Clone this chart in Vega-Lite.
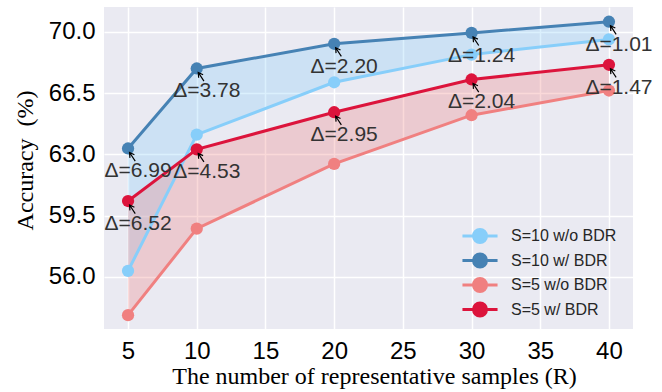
{
  "$schema": "https://vega.github.io/schema/vega-lite/v6.json",
  "width": 529,
  "height": 322,
  "autosize": {"type": "none"},
  "padding": {"left": 104, "top": 7, "right": 29, "bottom": 63},
  "background": "white",
  "view": {"fill": "#EAEAF2", "stroke": null},
  "datasets": {
    "lines": [
      {"series": "S=10 w/o BDR", "R": 5, "acc": 56.35},
      {"series": "S=10 w/o BDR", "R": 10, "acc": 64.13},
      {"series": "S=10 w/o BDR", "R": 20, "acc": 67.12},
      {"series": "S=10 w/o BDR", "R": 30, "acc": 68.70},
      {"series": "S=10 w/o BDR", "R": 40, "acc": 69.57},
      {"series": "S=10 w/ BDR", "R": 5, "acc": 63.34},
      {"series": "S=10 w/ BDR", "R": 10, "acc": 67.91},
      {"series": "S=10 w/ BDR", "R": 20, "acc": 69.32},
      {"series": "S=10 w/ BDR", "R": 30, "acc": 69.94},
      {"series": "S=10 w/ BDR", "R": 40, "acc": 70.58},
      {"series": "S=5 w/o BDR", "R": 5, "acc": 53.82},
      {"series": "S=5 w/o BDR", "R": 10, "acc": 58.76},
      {"series": "S=5 w/o BDR", "R": 20, "acc": 62.46},
      {"series": "S=5 w/o BDR", "R": 30, "acc": 65.24},
      {"series": "S=5 w/o BDR", "R": 40, "acc": 66.65},
      {"series": "S=5 w/ BDR", "R": 5, "acc": 60.34},
      {"series": "S=5 w/ BDR", "R": 10, "acc": 63.29},
      {"series": "S=5 w/ BDR", "R": 20, "acc": 65.41},
      {"series": "S=5 w/ BDR", "R": 30, "acc": 67.28},
      {"series": "S=5 w/ BDR", "R": 40, "acc": 68.12}
    ],
    "bandBlue": [
      {"R": 5, "lo": 56.35, "hi": 63.34},
      {"R": 10, "lo": 64.13, "hi": 67.91},
      {"R": 20, "lo": 67.12, "hi": 69.32},
      {"R": 30, "lo": 68.70, "hi": 69.94},
      {"R": 40, "lo": 69.57, "hi": 70.58}
    ],
    "bandRed": [
      {"R": 5, "lo": 53.82, "hi": 60.34},
      {"R": 10, "lo": 58.76, "hi": 63.29},
      {"R": 20, "lo": 62.46, "hi": 65.41},
      {"R": 30, "lo": 65.24, "hi": 67.28},
      {"R": 40, "lo": 66.65, "hi": 68.12}
    ],
    "notes": [
      {"R": 5, "acc": 63.34, "label": "Δ=6.99"},
      {"R": 10, "acc": 67.91, "label": "Δ=3.78"},
      {"R": 20, "acc": 69.32, "label": "Δ=2.20"},
      {"R": 30, "acc": 69.94, "label": "Δ=1.24"},
      {"R": 40, "acc": 70.58, "label": "Δ=1.01"},
      {"R": 5, "acc": 60.34, "label": "Δ=6.52"},
      {"R": 10, "acc": 63.29, "label": "Δ=4.53"},
      {"R": 20, "acc": 65.41, "label": "Δ=2.95"},
      {"R": 30, "acc": 67.28, "label": "Δ=2.04"},
      {"R": 40, "acc": 68.12, "label": "Δ=1.47"}
    ]
  },
  "config": {
    "axis": {
      "grid": true,
      "gridColor": "#FFFFFF",
      "gridWidth": 1.5,
      "domain": false,
      "ticks": false,
      "tickSize": 0,
      "labelFont": "Liberation Sans",
      "labelFontSize": 24,
      "labelColor": "#000000",
      "titleFont": "Liberation Serif",
      "titleFontSize": 24,
      "titleFontWeight": "normal",
      "titleColor": "#000000"
    },
    "legend": {
      "labelFont": "Liberation Sans",
      "labelFontSize": 16,
      "labelColor": "#262626"
    }
  },
  "encoding": {
    "x": {
      "field": "R",
      "type": "quantitative",
      "scale": {"domain": [3.25, 41.75], "nice": false, "zero": false},
      "axis": {
        "values": [5, 10, 15, 20, 25, 30, 35, 40],
        "title": "The number of representative samples (R)",
        "labelPadding": 29,
        "labelBaseline": "alphabetic",
        "titleX": 270,
        "titleY": 54,
        "titleAlign": "center",
        "titleBaseline": "alphabetic"
      }
    },
    "y": {
      "type": "quantitative",
      "scale": {"domain": [53.03, 71.42], "nice": false, "zero": false},
      "axis": {
        "values": [56, 59.5, 63, 66.5, 70],
        "format": ".1f",
        "title": "Accuracy\u00a0 (%)",
        "labelPadding": 9,
        "titleX": -72,
        "titleY": 153,
        "titleAngle": -90,
        "titleAlign": "center",
        "titleBaseline": "alphabetic"
      }
    }
  },
  "layer": [
    {
      "data": {"name": "bandBlue"},
      "mark": {"type": "area", "color": "#87CEFA", "opacity": 0.3},
      "encoding": {"y": {"field": "hi", "type": "quantitative"}, "y2": {"field": "lo"}}
    },
    {
      "data": {"name": "bandRed"},
      "mark": {"type": "area", "color": "#F08080", "opacity": 0.3},
      "encoding": {"y": {"field": "hi", "type": "quantitative"}, "y2": {"field": "lo"}}
    },
    {
      "data": {"name": "lines"},
      "mark": {"type": "line", "strokeWidth": 3},
      "encoding": {
        "y": {"field": "acc", "type": "quantitative"},
        "color": {
          "field": "series",
          "type": "nominal",
          "sort": null,
          "scale": {
            "domain": ["S=10 w/o BDR", "S=10 w/ BDR", "S=5 w/o BDR", "S=5 w/ BDR"],
            "range": ["#87CEFA", "#4682B4", "#F08080", "#DC143C"]
          },
          "legend": {
            "title": null,
            "orient": "none",
            "legendX": 368,
            "legendY": 221,
            "padding": 0,
            "rowPadding": -1.5,
            "labelOffset": 23,
            "symbolType": "M-2.7,0L2.7,0M1,0A1,1,0,1,1,-1,0A1,1,0,1,1,1,0Z",
            "symbolSize": 169,
            "symbolStrokeWidth": 3,
            "encode": {
              "symbols": {
                "update": {
                  "fill": {"scale": "color", "field": "value"},
                  "stroke": {"scale": "color", "field": "value"},
                  "opacity": {"value": 1},
                  "fillOpacity": {"value": 1}
                }
              }
            }
          }
        }
      }
    },
    {
      "data": {"name": "lines"},
      "mark": {"type": "point", "filled": true, "size": 150, "opacity": 1},
      "encoding": {
        "y": {"field": "acc", "type": "quantitative"},
        "color": {"field": "series", "type": "nominal", "sort": null}
      }
    },
    {
      "data": {"name": "notes"},
      "mark": {
        "type": "point",
        "shape": "M0.6,1.05L0.125,0.333M0.158,0.78L0.125,0.333L0.53,0.52",
        "size": 576,
        "filled": false,
        "stroke": "#000000",
        "strokeWidth": 1.2,
        "opacity": 1
      },
      "encoding": {"y": {"field": "acc", "type": "quantitative"}}
    },
    {
      "data": {"name": "notes"},
      "mark": {
        "type": "text",
        "font": "Liberation Sans",
        "fontSize": 21,
        "color": "#333333",
        "align": "center",
        "baseline": "middle",
        "dx": 10,
        "dy": 23
      },
      "encoding": {
        "y": {"field": "acc", "type": "quantitative"},
        "text": {"field": "label"}
      }
    }
  ]
}
